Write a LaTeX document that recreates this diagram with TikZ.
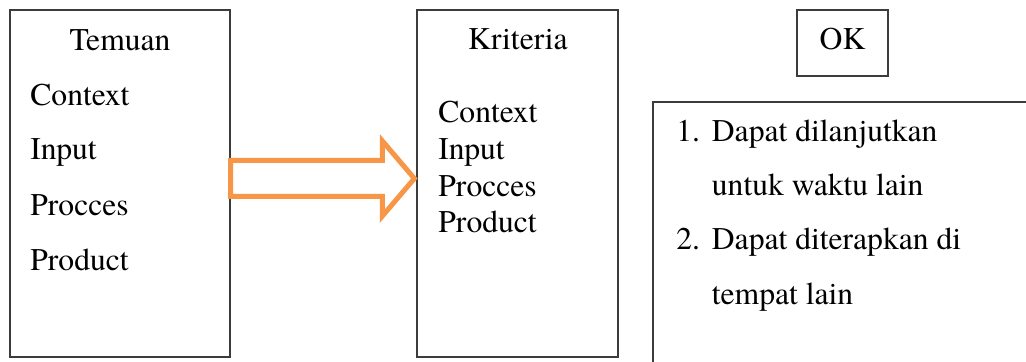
\documentclass[tikz,border=0pt]{standalone}
\usepackage{fontspec}
\setmainfont{TeX Gyre Termes}
\usetikzlibrary{calc}
\definecolor{arroworange}{RGB}{247,150,70}
\definecolor{boxline}{RGB}{60,60,60}
\tikzset{
  box/.style={draw=boxline, line width=0.6pt, rectangle, inner sep=0pt},
  txt/.style={inner sep=0pt, font=\fontsize{15.8}{18}\selectfont},
  blockarrow/.style={draw=arroworange, line width=2.5pt, fill=white, line join=miter, miter limit=10}
}
\begin{document}
\begin{tikzpicture}[x=0.5pt, y=-0.5pt]
  \useasboundingbox (0,0) rectangle (1026,362);
  \clip (0,0) rectangle (1026,362);

  % findings box
  \node[box, minimum width=110pt, minimum height=173.5pt] (t1) at (120,183.5) {};
  \node[txt, anchor=base] (t1title) at (120,50.5) {Temuan};
  \node[txt, anchor=base west] (t1a) at (30,106) {Context};
  \node[txt, anchor=base west] (t1b) at (30,160) {Input};
  \node[txt, anchor=base west] (t1c) at (30,215.5) {Procces};
  \node[txt, anchor=base west] (t1d) at (30,271) {Product};

  % criteria box
  \node[box, minimum width=100.5pt, minimum height=173.5pt] (t2) at (517.5,183.5) {};
  \node[txt, anchor=base] (t2title) at (518,50) {Kriteria};
  \node[txt, anchor=base west] (t2a) at (438,122.5) {Context};
  \node[txt, anchor=base west] (t2b) at (438,159.5) {Input};
  \node[txt, anchor=base west] (t2c) at (438,196.5) {Procces};
  \node[txt, anchor=base west] (t2d) at (438,233) {Product};

  % result box
  \node[box, minimum width=45.5pt, minimum height=33pt] (ok) at (842.5,43) {};
  \node[txt, anchor=base] (oktext) at (842.5,50) {OK};

  % recommendations box (runs past the right and bottom edges)
  \node[box, minimum width=223.5pt, minimum height=159pt] (rec) at (876.5,261) {};
  \node[txt, anchor=base west] (r1n) at (676,142) {1.};
  \node[txt, anchor=base west] (r1a) at (711.5,142) {Dapat dilanjutkan};
  \node[txt, anchor=base west] (r1b) at (711.5,196) {untuk waktu lain};
  \node[txt, anchor=base west] (r2n) at (676,250) {2.};
  \node[txt, anchor=base west] (r2a) at (711.5,250) {Dapat diterapkan di};
  \node[txt, anchor=base west] (r2b) at (711.5,305) {tempat lain};

  % block arrow from findings to criteria
  \coordinate (tail) at ($(t1.east)+(0,-5)$);
  \coordinate (tip) at ($(t2.west)+(-2,-5)$);
  \draw[blockarrow]
    ($(tail)+(0,-18)$) -- ($(tip)+(-32,-18)$) -- ($(tip)+(-32,-37.5)$)
    -- (tip)
    -- ($(tip)+(-32,37.5)$) -- ($(tip)+(-32,18)$) -- ($(tail)+(0,18)$) -- cycle;
\end{tikzpicture}
\end{document}
